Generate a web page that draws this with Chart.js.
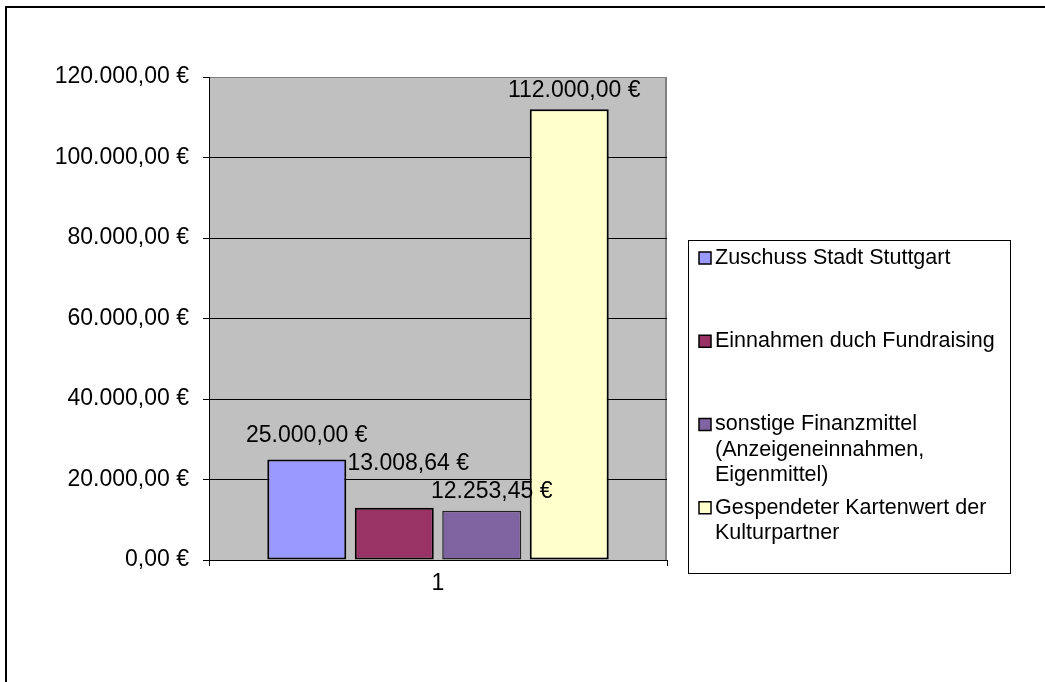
<!DOCTYPE html>
<html>
<head>
<meta charset="utf-8">
<script src="https://cdn.jsdelivr.net/npm/chart.js@4/dist/chart.umd.min.js"></script>
<style>
  html, body { margin: 0; padding: 0; background: #fff; }
  #wrap { width: 1045px; height: 682px; position: relative; }
</style>
</head>
<body>
<div id="wrap"><canvas id="c"></canvas></div>
<script>
const categories = ['1'];
const seriesLabels = [
  'Zuschuss Stadt Stuttgart',
  'Einnahmen duch Fundraising',
  'sonstige Finanzmittel (Anzeigeneinnahmen, Eigenmittel)',
  'Gespendeter Kartenwert der Kulturpartner'
];
const zuschuss = [25000.00];
const fundraising = [13008.64];
const sonstige = [12253.45];
const kartenwert = [112000.00];
const seriesColors = ['#9999FF', '#993366', '#8064A2', '#FFFFCC'];
const yTicks = [0, 20000, 40000, 60000, 80000, 100000, 120000];

const FONT = '"Liberation Sans", Arial, sans-serif';

function euro(v) {
  const neg = v < 0;
  v = Math.abs(v);
  const fixed = v.toFixed(2);
  let [intPart, dec] = fixed.split('.');
  intPart = intPart.replace(/\B(?=(\d{3})+(?!\d))/g, '.');
  return (neg ? '-' : '') + intPart + ',' + dec + ' €';
}

function wrapText(ctx, text, maxW) {
  const words = text.split(' ');
  const lines = [];
  let cur = '';
  words.forEach(w => {
    const test = cur ? cur + ' ' + w : w;
    if (ctx.measureText(test).width > maxW && cur) {
      lines.push(cur);
      cur = w;
    } else {
      cur = test;
    }
  });
  if (cur) lines.push(cur);
  return lines;
}

const frame = {
  id: 'frame',
  beforeDraw(chart) {
    const ctx = chart.ctx;
    const a = chart.chartArea;
    ctx.save();
    ctx.fillStyle = '#fff';
    ctx.fillRect(0, 0, chart.width, chart.height);
    ctx.strokeStyle = '#000';
    ctx.lineWidth = 2;
    ctx.strokeRect(6, 7, chart.width + 20, chart.height + 20);
    ctx.fillStyle = '#C0C0C0';
    ctx.fillRect(a.left, a.top, a.right - a.left, a.bottom - a.top);
    ctx.strokeStyle = '#808080';
    ctx.lineWidth = 2;
    ctx.beginPath();
    ctx.moveTo(a.right - 1, a.top);
    ctx.lineTo(a.right - 1, a.bottom);
    ctx.stroke();
    ctx.restore();
  }
};

const valueLabels = {
  id: 'valueLabels',
  afterDatasetsDraw(chart, args, opts) {
    const ctx = chart.ctx;
    ctx.save();
    ctx.font = opts.font;
    ctx.fillStyle = opts.color;
    ctx.textAlign = 'center';
    ctx.textBaseline = 'middle';
    chart.data.datasets.forEach((ds, i) => {
      const meta = chart.getDatasetMeta(i);
      meta.data.forEach((bar, j) => {
        const off = opts.offsets[i] || {dx: 0, dy: -20};
        ctx.fillText(euro(ds.data[j]), bar.x + off.dx, bar.y + off.dy);
      });
    });
    ctx.restore();
  }
};

const boxLegend = {
  id: 'boxLegend',
  afterDraw(chart, args, opts) {
    const ctx = chart.ctx;
    const b = opts.box;
    ctx.save();
    ctx.fillStyle = '#fff';
    ctx.fillRect(b.x, b.y, b.w, b.h);
    ctx.strokeStyle = '#000';
    ctx.lineWidth = 1;
    ctx.strokeRect(b.x + 0.5, b.y + 0.5, b.w, b.h);
    ctx.font = opts.font;
    ctx.textBaseline = 'middle';
    ctx.textAlign = 'left';
    const n = chart.data.datasets.length;
    const slot = b.h / n;
    chart.data.datasets.forEach((ds, i) => {
      const lines = wrapText(ctx, ds.label, opts.maxWidth);
      const top = b.y + i * slot + opts.firstLine;
      const m = opts.marker;
      ctx.fillStyle = ds.backgroundColor;
      ctx.fillRect(b.x + m.x, top - m.size / 2, m.size, m.size);
      ctx.strokeStyle = '#000';
      ctx.lineWidth = 1.5;
      ctx.strokeRect(b.x + m.x, top - m.size / 2, m.size, m.size);
      ctx.fillStyle = opts.color;
      lines.forEach((ln, j) => ctx.fillText(ln, b.x + opts.textX, top + j * opts.lineHeight));
    });
    ctx.restore();
  }
};

const seriesData = [zuschuss, fundraising, sonstige, kartenwert];

new Chart(document.getElementById('c'), {
  type: 'bar',
  data: {
    labels: categories,
    datasets: seriesLabels.map((lab, i) => ({
      label: lab,
      data: seriesData[i],
      backgroundColor: seriesColors[i],
      borderColor: i === 2 ? '#222' : '#000',
      borderWidth: i === 2 ? 1.5 : 2,
      borderSkipped: false,
      categoryPercentage: 0.764,
      barPercentage: 0.903
    }))
  },
  options: {
    responsive: true,
    maintainAspectRatio: false,
    animation: false,
    layout: { padding: { left: 0, top: 77, right: 378, bottom: 62 } },
    plugins: {
      legend: { display: false },
      tooltip: { enabled: false },
      valueLabels: {
        font: '23px ' + FONT,
        color: '#000',
        offsets: [
          { dx: 0, dy: -24 },
          { dx: 14, dy: -44 },
          { dx: 10, dy: -19 },
          { dx: 5, dy: -19 }
        ]
      },
      boxLegend: {
        box: { x: 688, y: 240, w: 322, h: 333 },
        font: '21.5px ' + FONT,
        color: '#000',
        maxWidth: 292,
        firstLine: 18,
        lineHeight: 25.5,
        textX: 27,
        marker: { x: 11, size: 12 }
      }
    },
    scales: {
      x: {
        offset: true,
        grid: {
          display: true,
          drawOnChartArea: false,
          offset: true,
          tickLength: 6,
          tickColor: '#000'
        },
        border: { display: true, color: '#000', width: 1 },
        ticks: {
          font: { family: FONT, size: 23 },
          color: '#000',
          padding: 4
        },
        afterFit(s) { s.height = 60; }
      },
      y: {
        min: 0,
        max: 120000,
        afterBuildTicks(s) { s.ticks = yTicks.map(v => ({ value: v })); },
        grid: {
          color: ctx => (ctx.tick && ctx.tick.value === 120000) ? '#808080' : '#000',
          lineWidth: 1,
          tickLength: 6,
          tickColor: '#000'
        },
        border: { display: true, color: '#000', width: 1 },
        ticks: {
          font: { family: FONT, size: 23 },
          color: '#000',
          padding: 14,
          callback: v => euro(v)
        },
        afterFit(s) { s.width = 209; }
      }
    }
  },
  plugins: [frame, valueLabels, boxLegend]
});
</script>
</body>
</html>
